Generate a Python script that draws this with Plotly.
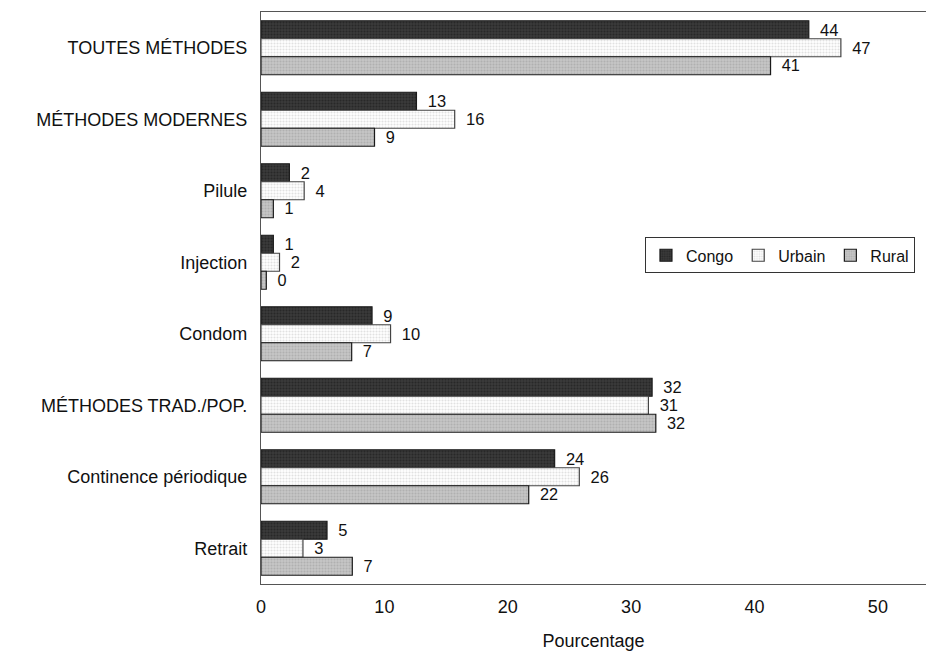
import plotly.graph_objects as go

categories = ["TOUTES MÉTHODES", "MÉTHODES MODERNES", "Pilule", "Injection", "Condom",
              "MÉTHODES TRAD./POP.", "Continence périodique", "Retrait"]

series_names = ["Congo", "Urbain", "Rural"]
congo = [44.4, 12.6, 2.3, 1.0, 9.0, 31.7, 23.8, 5.35]
urbain = [47.0, 15.7, 3.5, 1.5, 10.5, 31.4, 25.8, 3.4]
rural = [41.3, 9.2, 1.0, 0.43, 7.35, 32.0, 21.7, 7.4]

congo_labels = ["44", "13", "2", "1", "9", "32", "24", "5"]
urbain_labels = ["47", "16", "4", "2", "10", "31", "26", "3"]
rural_labels = ["41", "9", "1", "0", "7", "32", "22", "7"]

x_ticks = [0, 10, 20, 30, 40, 50]
x_title = "Pourcentage"

FONT = "Liberation Sans, Arial, sans-serif"

styles = [
    dict(color="#3a3a3a", fg="#151515", line="#1a1a1a", tsize=16.5),
    dict(color="#ffffff", fg="#c4c4c4", line="#444444", tsize=16.5),
    dict(color="#c6c6c6", fg="#999999", line="#1a1a1a", tsize=19),
]

fig = go.Figure()
for name, vals, labels, st in zip(series_names, [congo, urbain, rural],
                                  [congo_labels, urbain_labels, rural_labels], styles):
    fig.add_trace(go.Bar(
        name=name,
        y=categories,
        x=vals,
        orientation="h",
        text=["\u2002" + t for t in labels],
        textposition="outside",
        textfont=dict(family=FONT, size=st["tsize"], color="#111111"),
        cliponaxis=False,
        marker=dict(
            color=st["color"],
            line=dict(color=st["line"], width=1.2),
            pattern=dict(shape=".", fgcolor=st["fg"], size=3, solidity=0.4),
        ),
    ))

fig.update_layout(
    width=926, height=651,
    margin=dict(l=261, r=0, t=12, b=67),
    paper_bgcolor="white",
    plot_bgcolor="white",
    barmode="group",
    bargap=0.245,
    bargroupgap=0,
    font=dict(family=FONT, size=18, color="#111111"),
    showlegend=True,
    legend=dict(
        orientation="h",
        x=0.5774, y=0.606, xanchor="left", yanchor="top",
        bordercolor="#333333", borderwidth=1, bgcolor="white",
        font=dict(family=FONT, size=16, color="#111111"),
        itemwidth=30,
        traceorder="normal",
    ),
)

fig.update_xaxes(
    range=[0, 53.9],
    tickvals=x_ticks,
    ticktext=[str(v) for v in x_ticks],
    showgrid=False, zeroline=False,
    showline=True, linecolor="#555555", linewidth=1.2, mirror=True,
    ticks="", ticklabelstandoff=6,
    tickfont=dict(family=FONT, size=18, color="#111111"),
    title=dict(text=x_title, font=dict(family=FONT, size=18, color="#111111"), standoff=20),
)
fig.update_yaxes(
    categoryorder="array", categoryarray=categories,
    autorange="reversed",
    showgrid=False, zeroline=False,
    showline=True, linecolor="#555555", linewidth=1.2, mirror=False,
    ticks="", ticklabelstandoff=9,
    tickfont=dict(family=FONT, size=18, color="#111111"),
)

fig.write_html("out.html",
               config={"displayModeBar": False},
               post_script="document.body.style.margin='0';document.body.style.overflow='hidden';")
